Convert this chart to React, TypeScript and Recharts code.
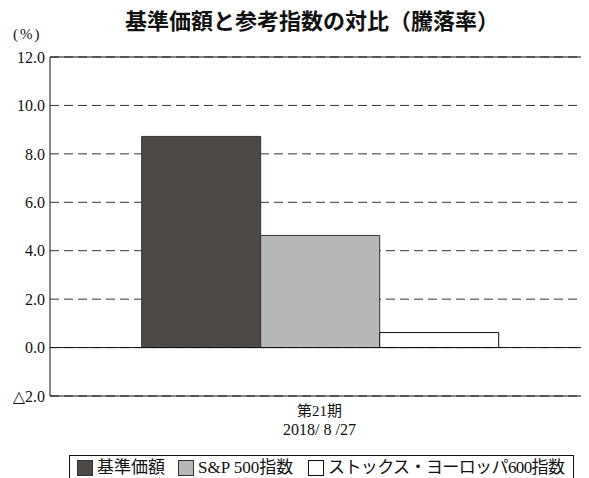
import React from 'react'
import {
  BarChart,
  Bar,
  XAxis,
  YAxis,
  CartesianGrid,
  ReferenceLine,
} from 'recharts'

const periods = ['第21期']
const dates = ['2018/ 8 /27']
const fundValues = [8.72]
const sp500Values = [4.63]
const stoxxValues = [0.62]
const yTicks = [-2, 0, 2, 4, 6, 8, 10, 12]

const SERIES = [
  { key: 'fund', name: '基準価額', fill: '#4c4947', stroke: '#333333' },
  { key: 'sp500', name: 'S&P 500指数', fill: '#b6b8b7', stroke: '#333333' },
  { key: 'stoxx', name: 'ストックス・ヨーロッパ600指数', fill: '#ffffff', stroke: '#111111' },
]

const SERIF = '"Liberation Serif", "DejaVu Serif", "Noto Sans CJK JP", serif'
const GOTHIC = '"Noto Sans CJK JP", "Noto Sans", sans-serif'

const data = periods.map((p, i) => ({
  period: p,
  date: dates[i],
  fund: fundValues[i],
  sp500: sp500Values[i],
  stoxx: stoxxValues[i],
}))

function formatY(v: number): string {
  return v < 0 ? `△${Math.abs(v).toFixed(1)}` : v.toFixed(1)
}

function XTick({ x, y, payload, index }: any) {
  return (
    <g>
      <text x={x} y={y + 12} textAnchor="middle" fontSize={15} fontFamily={SERIF} fill="#111">
        {payload.value}
      </text>
      <text x={x} y={y + 31} textAnchor="middle" fontSize={16} fontFamily={SERIF} fill="#111">
        {dates[index] ?? data[0].date}
      </text>
    </g>
  )
}

const legendLeft = [77, 178, 308]
const legendSpacing = [0, 0, -0.6]

export default function App() {
  return (
    <div style={{ position: 'absolute', left: 0, top: 0, width: 589, height: 478, background: '#fff', overflow: 'hidden' }}>
      <div
        style={{
          position: 'absolute',
          left: 0,
          top: 6,
          width: 624,
          textAlign: 'center',
          fontFamily: GOTHIC,
          fontWeight: 700,
          fontSize: 22,
          lineHeight: '26px',
          color: '#111',
        }}
      >
        基準価額と参考指数の対比（騰落率）
      </div>
      <div
        style={{
          position: 'absolute',
          left: 13,
          top: 25,
          fontFamily: SERIF,
          fontSize: 15,
          lineHeight: '18px',
          letterSpacing: 2,
          color: '#111',
        }}
      >
        (%)
      </div>
      <div style={{ position: 'absolute', left: 0, top: 0 }}>
        <BarChart
          width={589}
          height={478}
          data={data}
          margin={{ top: 57, right: 8, bottom: 52, left: 0 }}
          barCategoryGap="16%"
          barGap={0}
        >
          <CartesianGrid vertical={false} stroke="#333" strokeDasharray="9 5" />
          <XAxis
            dataKey="period"
            tick={<XTick />}
            tickLine={false}
            axisLine={{ stroke: '#111' }}
            interval={0}
            height={30}
            padding={{ left: 8, right: 0 }}
          />
          <YAxis
            width={50}
            domain={[-2, 12]}
            ticks={yTicks}
            tickFormatter={formatY}
            tickLine={false}
            axisLine={{ stroke: '#111' }}
            tickSize={3}
            tickMargin={2}
            tick={{ fontSize: 16, fontFamily: SERIF, fill: '#111' }}
            allowDataOverflow
          />
          <YAxis
            yAxisId="right"
            orientation="right"
            width={0}
            domain={[-2, 12]}
            tick={false}
            tickLine={false}
            axisLine={{ stroke: '#111' }}
          />
          <ReferenceLine y={12} stroke="#111" />
          {SERIES.map((s) => (
            <Bar
              key={s.key}
              dataKey={s.key}
              name={s.name}
              fill={s.fill}
              stroke={s.stroke}
              strokeWidth={1}
              isAnimationActive={false}
            />
          ))}
          <ReferenceLine y={0} stroke="#111" />
        </BarChart>
      </div>
      <div
        style={{
          position: 'absolute',
          left: 69,
          top: 455,
          width: 505,
          height: 26,
          border: '1px solid #111',
          boxSizing: 'border-box',
          fontFamily: SERIF,
          fontSize: 17,
          color: '#111',
          whiteSpace: 'nowrap',
        }}
      >
        {SERIES.map((s, i) => (
          <span
            key={s.key}
            style={{
              position: 'absolute',
              left: legendLeft[i] - 70,
              top: 1,
              lineHeight: '22px',
              display: 'flex',
              alignItems: 'center',
              letterSpacing: legendSpacing[i],
            }}
          >
            <span
              style={{
                display: 'inline-block',
                width: 16,
                height: 16,
                background: s.fill,
                border: `1px solid ${s.stroke}`,
                boxSizing: 'border-box',
                marginRight: 4,
              }}
            />
            {s.name}
          </span>
        ))}
      </div>
    </div>
  )
}
